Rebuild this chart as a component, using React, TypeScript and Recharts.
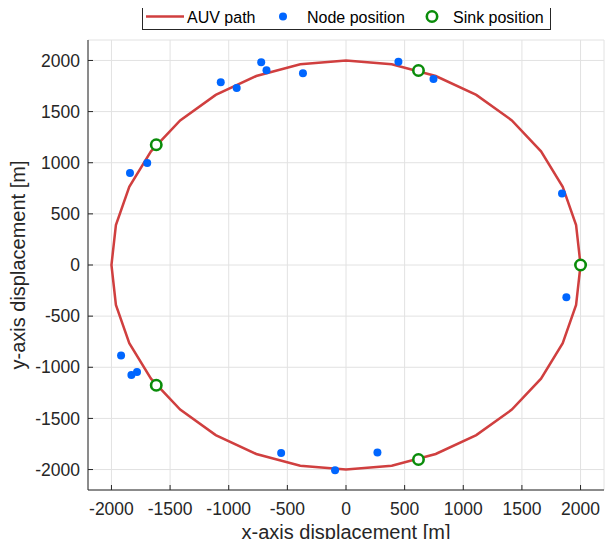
import React from 'react';
import {
  ScatterChart,
  Scatter,
  XAxis,
  YAxis,
  CartesianGrid,
} from 'recharts';

// AUV path (closed polygon around the field)
const pathX = [
  2000, 1962, 1848, 1663, 1414, 1111, 765, 390, 0, -390, -765, -1111, -1414, -1663, -1848, -1962,
  -2000, -1962, -1848, -1663, -1414, -1111, -765, -390, 0, 390, 765, 1111, 1414, 1663, 1848, 1962,
  2000,
];
const pathY = [
  0, 390, 765, 1111, 1414, 1663, 1848, 1962, 2000, 1962, 1848, 1663, 1414, 1111, 765, 390,
  0, -390, -765, -1111, -1414, -1663, -1848, -1962, -2000, -1962, -1848, -1663, -1414, -1111, -765, -390,
  0,
];

// sensor nodes
const nodeX = [-1068, -932, -723, -678, -367, 447, 746, -1842, -1695, 1842, 1879, -1918, -1830, -1782, -553, 268, -93];
const nodeY = [1788, 1730, 1983, 1905, 1876, 1987, 1818, 900, 998, 699, -315, -885, -1076, -1047, -1837, -1834, -2007];

// sinks
const sinkX = [618, 2000, 618, -1618, -1618];
const sinkY = [1902, 0, -1902, 1176, -1176];

const ticks = [-2000, -1500, -1000, -500, 0, 500, 1000, 1500, 2000];

const pathData = pathX.map((x, i) => ({ x, y: pathY[i] }));
const nodeData = nodeX.map((x, i) => ({ x, y: nodeY[i] }));
const sinkData = sinkX.map((x, i) => ({ x, y: sinkY[i] }));

const FONT = '"Liberation Sans", Arial, Helvetica, sans-serif';
const INK = '#262626';
const RED = '#d03f3f';
const BLUE = '#0066ff';
const GREEN = '#0a8c0a';

const tickStyle = { fontSize: 17.5, fill: INK, fontFamily: FONT };

const NoShape = () => <g />;

const NodeDot = (props: any) => <circle cx={props.cx} cy={props.cy} r={4} fill={BLUE} />;
const SinkRing = (props: any) => (
  <circle cx={props.cx} cy={props.cy} r={5.2} fill="#fff" stroke={GREEN} strokeWidth={2.6} />
);

const LegendBox = () => (
  <svg
    width={614}
    height={34}
    style={{ position: 'absolute', left: 0, top: 0, pointerEvents: 'none' }}
    fontFamily={FONT}
  >
    <rect x={142.5} y={4.5} width={408} height={25} fill="#fff" stroke={INK} strokeWidth={1} />
    <line x1={146} x2={184} y1={16.5} y2={16.5} stroke={RED} strokeWidth={2.5} />
    <text x={187} y={22.5} fontSize={16} fill="#000">AUV path</text>
    <circle cx={283} cy={16.5} r={4} fill={BLUE} />
    <text x={307} y={22.5} fontSize={16} fill="#000">Node position</text>
    <circle cx={432} cy={16.5} r={5.2} fill="#fff" stroke={GREEN} strokeWidth={2.6} />
    <text x={453} y={22.5} fontSize={16} fill="#000">Sink position</text>
  </svg>
);

export default function App() {
  return (
    <div style={{ position: 'relative', margin: -8, width: 614, height: 547, background: '#fff' }}>
      <ScatterChart width={614} height={547} margin={{ top: 40, right: 10, bottom: 0, left: 0 }}>
        <CartesianGrid stroke="#e2e2e2" strokeWidth={1} />
        <XAxis
          type="number"
          dataKey="x"
          domain={[-2200, 2200]}
          ticks={ticks}
          height={57}
          tick={tickStyle}
          tickSize={-5}
          tickMargin={18}
          axisLine={{ stroke: INK }}
          tickLine={{ stroke: INK }}
          allowDataOverflow
          label={{
            value: 'x-axis displacement [m]',
            position: 'insideBottom',
            offset: 8,
            style: { fontSize: 20, fill: INK, fontFamily: FONT },
          }}
        />
        <XAxis
          xAxisId="top"
          orientation="top"
          type="number"
          dataKey="x"
          domain={[-2200, 2200]}
          ticks={ticks}
          height={0}
          tickSize={-5}
          tickFormatter={() => ''}
          axisLine={{ stroke: INK }}
          tickLine={{ stroke: INK }}
          allowDataOverflow
        />
        <YAxis
          type="number"
          dataKey="y"
          domain={[-2200, 2200]}
          ticks={ticks}
          width={88}
          tick={tickStyle}
          tickSize={-5}
          tickMargin={13}
          axisLine={{ stroke: INK }}
          tickLine={{ stroke: INK }}
          allowDataOverflow
          label={{
            value: 'y-axis displacement [m]',
            angle: -90,
            position: 'insideLeft',
            offset: 18,
            style: { fontSize: 20, fill: INK, fontFamily: FONT, textAnchor: 'middle' },
          }}
        />
        <YAxis
          yAxisId="right"
          orientation="right"
          type="number"
          dataKey="y"
          domain={[-2200, 2200]}
          ticks={ticks}
          width={0}
          tickSize={-5}
          tickFormatter={() => ''}
          axisLine={{ stroke: INK }}
          tickLine={{ stroke: INK }}
          allowDataOverflow
        />
        <Scatter
          name="AUV path"
          data={pathData}
          line={{ stroke: RED, strokeWidth: 2.5 }}
          lineType="joint"
          shape={NoShape}
          isAnimationActive={false}
        />
        <Scatter name="Node position" data={nodeData} shape={NodeDot} isAnimationActive={false} />
        <Scatter name="Sink position" data={sinkData} shape={SinkRing} isAnimationActive={false} />
      </ScatterChart>
      <LegendBox />
    </div>
  );
}
